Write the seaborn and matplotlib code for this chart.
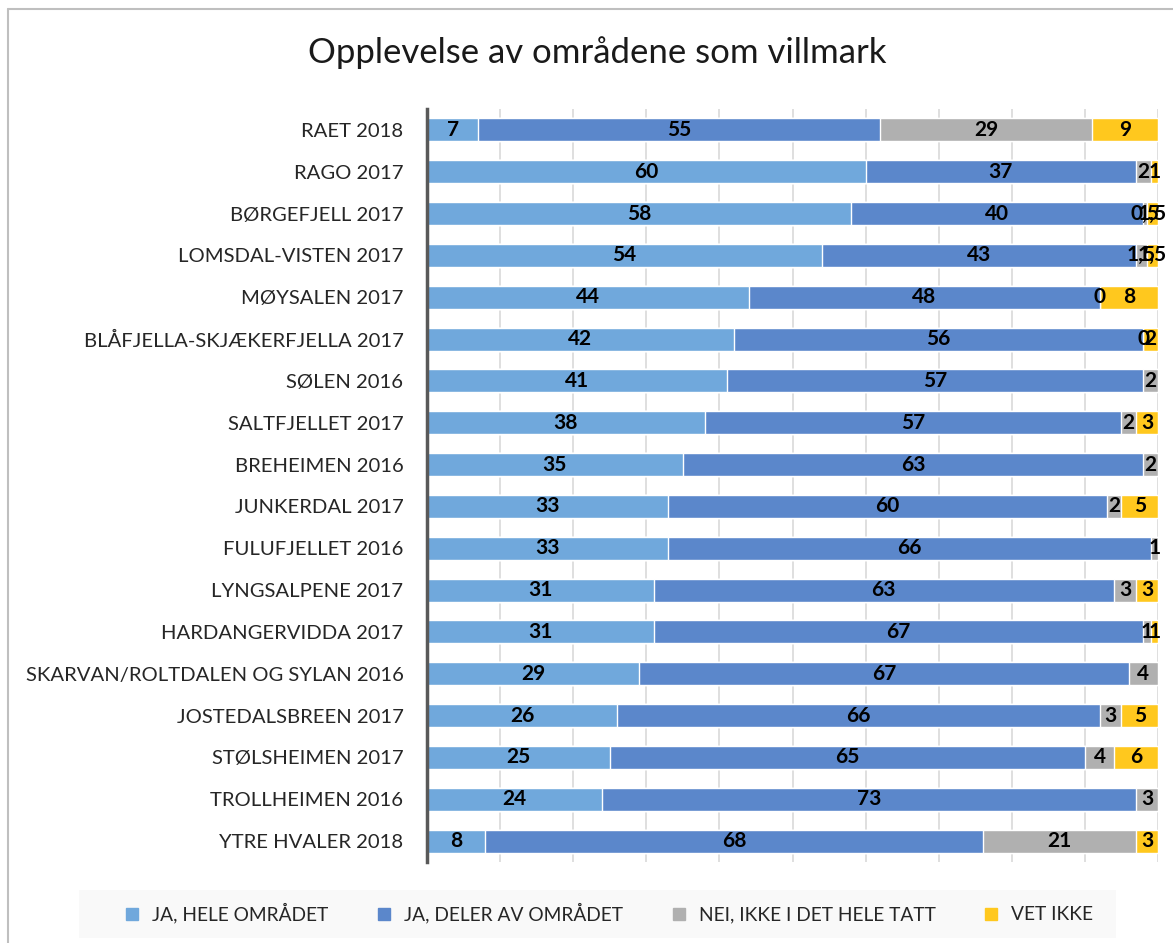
import numpy as np
import pandas as pd
import matplotlib.pyplot as plt
import seaborn as sns
from matplotlib.lines import Line2D
from matplotlib.patches import Rectangle

# Data (percent)
areas = ['RAET 2018', 'RAGO 2017', 'BØRGEFJELL 2017', 'LOMSDAL-VISTEN 2017',
         'MØYSALEN 2017', 'BLÅFJELLA-SKJÆKERFJELLA 2017', 'SØLEN 2016',
         'SALTFJELLET 2017', 'BREHEIMEN 2016', 'JUNKERDAL 2017',
         'FULUFJELLET 2016', 'LYNGSALPENE 2017', 'HARDANGERVIDDA 2017',
         'SKARVAN/ROLTDALEN OG SYLAN 2016', 'JOSTEDALSBREEN 2017',
         'STØLSHEIMEN 2017', 'TROLLHEIMEN 2016', 'YTRE HVALER 2018']
ja_hele = [7, 60, 58, 54, 44, 42, 41, 38, 35, 33, 33, 31, 31, 29, 26, 25, 24, 8]
ja_deler = [55, 37, 40, 43, 48, 56, 57, 57, 63, 60, 66, 63, 67, 67, 66, 65, 73, 68]
nei = [29, 2, 0.5, 1.5, 0, 0, 2, 2, 2, 2, 1, 3, 1, 4, 3, 4, 3, 21]
vet_ikke = [9, 1, 1.5, 1.5, 8, 2, np.nan, 3, np.nan, 5, np.nan, 3, 1, np.nan, 5, 6, np.nan, 3]

series = ['JA, HELE OMRÅDET', 'JA, DELER AV OMRÅDET', 'NEI, IKKE I DET HELE TATT', 'VET IKKE']
colors = ['#70a8dc', '#5b87cb', '#b0b0b0', '#ffc81e']

df = pd.DataFrame({'area': areas, series[0]: ja_hele, series[1]: ja_deler,
                   series[2]: nei, series[3]: vet_ikke})

sns.set_style('white')
plt.rcParams['font.family'] = ['Lato', 'DejaVu Sans']

fig = plt.figure(figsize=(11.73, 9.43), dpi=100)
ax = fig.add_axes([427 / 1173, 1 - 862 / 943, (1158 - 427) / 1173, (862 - 109) / 943])

vals = df[series].fillna(0)
cum = vals.cumsum(axis=1)

# stacked bars: draw cumulative totals from the back to the front
for i in range(len(series) - 1, -1, -1):
    tmp = pd.DataFrame({'area': areas, 'v': cum[series[i]]})
    sns.barplot(data=tmp, x='v', y='area', orient='h', color=colors[i],
                saturation=1, width=0.55, edgecolor='white', linewidth=1,
                ax=ax, zorder=2)

# value labels
def fmt(v):
    return str(int(v)) if float(v).is_integer() else str(v).replace('.', ',')

for r, area in enumerate(areas):
    start = 0
    for s in series:
        v = df.loc[r, s]
        if pd.isna(v):
            continue
        ax.text(start + v / 2, r, fmt(v), ha='center', va='center',
                fontsize=15, fontweight='bold', color='black', zorder=5)
        start += v

ax.set_xlim(0, 100)
ax.set_ylim(len(areas) - 0.5, -0.5)
ax.set_xticks(np.arange(0, 101, 10))
ax.set_xticklabels([])
ax.tick_params(axis='x', length=0)
ax.tick_params(axis='y', length=0, labelsize=14.6, labelcolor='#262626', pad=17)
ax.grid(axis='x', color='#d9d9d9', linewidth=1.2, zorder=0)
ax.set_axisbelow(True)
ax.set_xlabel('')
ax.set_ylabel('')
for sp in ['top', 'right', 'bottom']:
    ax.spines[sp].set_visible(False)
ax.spines['left'].set_color('#595959')
ax.spines['left'].set_linewidth(2.5)
ax.spines['left'].set_zorder(6)

fig.text(597 / 1173, 1 - 53 / 943, 'Opplevelse av områdene som villmark',
         ha='center', va='center', fontsize=25, color='#1a1a1a')

# legend box
fig.patches.append(Rectangle((79 / 1173, 1 - 938 / 943), (1116 - 79) / 1173, 48 / 943,
                             transform=fig.transFigure, facecolor='#f9f9f9',
                             edgecolor='none', zorder=0))
handles = [Line2D([0], [0], marker='s', linestyle='none', markersize=9,
                  markerfacecolor=c, markeredgecolor=c) for c in colors]
fig.legend(handles, series, loc='center', bbox_to_anchor=(603 / 1173, 1 - 913 / 943),
           ncol=4, frameon=False, fontsize=13.8, handletextpad=0.05,
           columnspacing=1.9, labelcolor='#262626')

# chart frame
fig.add_artist(Line2D([8 / 1173, 8 / 1173], [0, 1 - 9 / 943], transform=fig.transFigure,
                      color='#bfbfbf', linewidth=1.5))
fig.add_artist(Line2D([8 / 1173, 1], [1 - 9 / 943, 1 - 9 / 943], transform=fig.transFigure,
                      color='#bfbfbf', linewidth=1.5))

fig.savefig('out.png', dpi=100)
